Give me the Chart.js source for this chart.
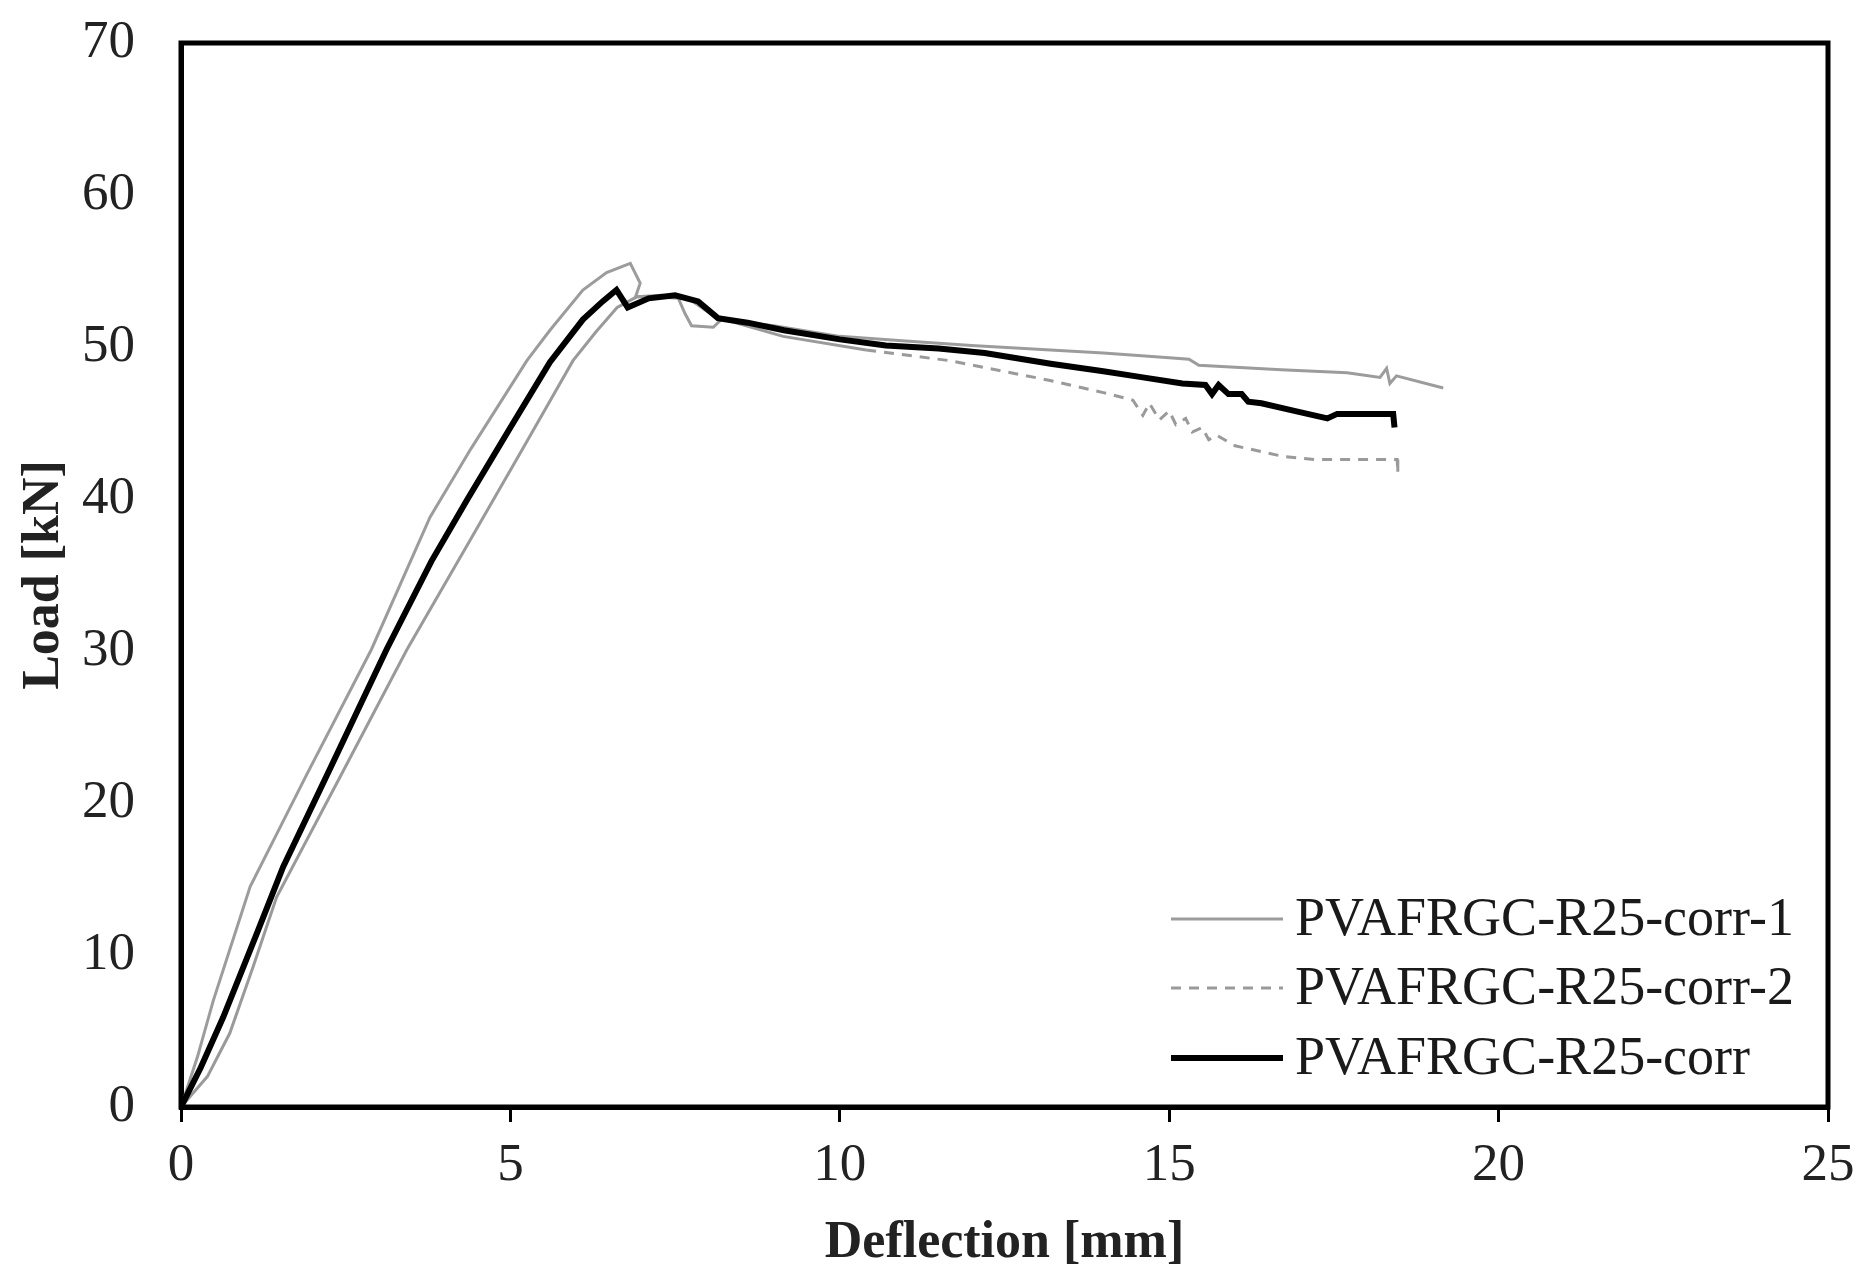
<!DOCTYPE html>
<html>
<head>
<meta charset="utf-8">
<title>Load - Deflection</title>
<script src="https://cdn.jsdelivr.net/npm/chart.js@4.4.1/dist/chart.umd.min.js"></script>
<style>
  html, body { margin: 0; padding: 0; background: #fff; }
  #wrap { width: 1860px; height: 1275px; }
</style>
</head>
<body>
<div id="wrap"><canvas id="loadChart" width="1860" height="1275"></canvas></div>
<script>
// Series labels (legend order)
const seriesNames = ['PVAFRGC-R25-corr-1', 'PVAFRGC-R25-corr-2', 'PVAFRGC-R25-corr'];

// PVAFRGC-R25-corr-1 (grey solid)
const corr1X = [0, 0.25, 0.49, 1.05, 1.9, 2.89, 3.78, 4.4, 5.25, 5.6, 6.1, 6.46, 6.82, 6.97, 6.9, 7.2, 7.55, 7.65, 7.75, 8.08, 8.2,
                9.0, 10.0, 11.0, 12.0, 13.2, 14.0, 15.0, 15.3, 15.45, 16.7, 17.7, 18.2, 18.3, 18.35, 18.45, 19.16];
const corr1Y = [0, 3.3, 7.0, 14.5, 21.8, 30.1, 38.8, 43.3, 49.1, 51.1, 53.75, 54.9, 55.5, 54.2, 53.3, 53.3, 53.2, 52.2, 51.4, 51.3, 51.8,
                51.4, 50.7, 50.4, 50.1, 49.8, 49.6, 49.3, 49.2, 48.8, 48.5, 48.3, 48.0, 48.6, 47.6, 48.1, 47.3];

// PVAFRGC-R25-corr-2 (grey, dashed on the softening branch)
const corr2X = [0, 0.4, 0.74, 1.1, 1.45, 2.4, 3.43, 4.39, 5.2, 5.95, 6.3, 6.62, 6.92, 7.3, 7.7, 8.1, 8.5, 9.14, 10.4, 11.67, 13.19,
                14.0, 14.45, 14.6, 14.7, 14.85, 15.0, 15.1, 15.25, 15.35, 15.5, 15.6, 15.72, 16.0, 16.73, 17.2, 18.46, 18.47];
const corr2Y = [0, 2.0, 4.85, 9.3, 13.8, 21.6, 30.1, 37.3, 43.4, 49.1, 51.0, 52.6, 53.3, 53.4, 53.2, 52.0, 51.5, 50.7, 49.8, 49.1, 47.8,
                47.0, 46.5, 45.5, 46.3, 45.2, 45.8, 44.9, 45.3, 44.4, 44.7, 43.9, 44.2, 43.5, 42.8, 42.6, 42.6, 41.8];
const corr2DashFrom = 10.4;

// PVAFRGC-R25-corr (black thick)
const corrX = [0, 0.3, 0.64, 1.15, 1.55, 2.3, 3.12, 3.8, 4.35, 5.0, 5.6, 6.1, 6.4, 6.61, 6.78, 7.1, 7.5, 7.85, 8.15, 8.6, 9.15,
               10.0, 10.7, 11.5, 12.2, 13.2, 14.0, 14.6, 15.2, 15.55, 15.65, 15.75, 15.9, 16.1, 16.2, 16.4, 16.9, 17.4, 17.55, 18.4, 18.42];
const corrY = [0, 2.6, 5.9, 11.4, 15.8, 22.6, 30.1, 35.9, 40.0, 44.7, 49.0, 51.8, 53.0, 53.75, 52.6, 53.2, 53.4, 53.0, 51.9, 51.6, 51.1,
               50.5, 50.1, 49.9, 49.6, 48.9, 48.4, 48.0, 47.6, 47.5, 46.9, 47.5, 46.9, 46.9, 46.4, 46.3, 45.8, 45.3, 45.6, 45.6, 44.7];

// Axis ticks
const xTicks = [0, 5, 10, 15, 20, 25];
const yTicks = [0, 10, 20, 30, 40, 50, 60, 70];

const serif = "'Liberation Serif', 'Times New Roman', Times, serif";

function toPoints(xs, ys) {
    return xs.map((x, i) => ({ x: x, y: ys[i] }));
}

// keep the plot box where the layout padding puts it
function noLabelPadding(scale) {
    scale.paddingTop = 0;
    scale.paddingBottom = 0;
    scale.paddingLeft = 0;
    scale.paddingRight = 0;
}

// Box round the plot area (top and right edges)
const frameBox = {
    id: 'frameBox',
    afterDraw(chart) {
        const { ctx, chartArea: a } = chart;
        ctx.save();
        ctx.strokeStyle = '#000';
        ctx.lineWidth = 5;
        ctx.strokeRect(a.left, a.top, a.right - a.left, a.bottom - a.top);
        ctx.restore();
    }
};

// Legend inside the plot, lower right
const insideLegend = {
    id: 'insideLegend',
    afterDraw(chart) {
        const { ctx, chartArea: a } = chart;
        const lineStart = a.right - 657;
        const lineEnd = a.right - 545;
        const textStart = a.right - 533;
        const rows = [a.bottom - 188, a.bottom - 119, a.bottom - 49];
        ctx.save();
        chart.data.datasets.forEach((ds, i) => {
            const y = rows[i];
            ctx.beginPath();
            ctx.strokeStyle = ds.borderColor;
            ctx.lineWidth = ds.borderWidth;
            ctx.setLineDash(ds.legendDash || []);
            ctx.moveTo(lineStart, y);
            ctx.lineTo(lineEnd, y);
            ctx.stroke();
            ctx.setLineDash([]);
            ctx.fillStyle = '#1a1a1a';
            ctx.font = '54px ' + serif;
            ctx.textAlign = 'left';
            ctx.textBaseline = 'middle';
            ctx.fillText(ds.label, textStart, y + 2);
        });
        ctx.restore();
    }
};

new Chart(document.getElementById('loadChart'), {
    type: 'line',
    data: {
        datasets: [
            {
                label: seriesNames[0],
                data: toPoints(corr1X, corr1Y),
                borderColor: '#9c9c9c',
                borderWidth: 3,
                pointRadius: 0,
                tension: 0,
                order: 2
            },
            {
                label: seriesNames[1],
                data: toPoints(corr2X, corr2Y),
                borderColor: '#9a9a9a',
                borderWidth: 3,
                legendDash: [10, 8],
                segment: {
                    borderDash: ctx => ctx.p0.parsed.x >= corr2DashFrom ? [10, 8] : undefined
                },
                pointRadius: 0,
                tension: 0,
                order: 1
            },
            {
                label: seriesNames[2],
                data: toPoints(corrX, corrY),
                borderColor: '#000000',
                borderWidth: 6,
                pointRadius: 0,
                tension: 0,
                order: 0
            }
        ]
    },
    options: {
        responsive: false,
        animation: false,
        devicePixelRatio: 1,
        layout: { padding: { top: 43, right: 32, left: 0, bottom: 0 } },
        plugins: {
            legend: { display: false },
            tooltip: { enabled: false }
        },
        scales: {
            x: {
                type: 'linear',
                min: 0,
                max: 25,
                afterBuildTicks: scale => { scale.ticks = xTicks.map(v => ({ value: v })); },
                afterFit: scale => { scale.height = 168; noLabelPadding(scale); },
                grid: {
                    display: true,
                    drawOnChartArea: false,
                    drawTicks: true,
                    tickLength: 15,
                    color: '#000',
                    lineWidth: 3
                },
                border: { display: true, color: '#000', width: 5 },
                ticks: {
                    padding: 12,
                    color: '#222',
                    font: { family: serif, size: 53 }
                },
                title: {
                    display: true,
                    text: 'Deflection [mm]',
                    color: '#222',
                    font: { family: serif, size: 52, weight: 'bold' },
                    padding: { top: 0, bottom: 0 }
                }
            },
            y: {
                type: 'linear',
                min: 0,
                max: 70,
                afterBuildTicks: scale => { scale.ticks = yTicks.map(v => ({ value: v })); },
                afterFit: scale => { scale.width = 181; noLabelPadding(scale); },
                grid: { display: false },
                border: { display: true, color: '#000', width: 5 },
                ticks: {
                    padding: 38,
                    color: '#222',
                    font: { family: serif, size: 53 }
                },
                title: {
                    display: true,
                    text: 'Load [kN]',
                    color: '#222',
                    font: { family: serif, size: 52, weight: 'bold' },
                    padding: { top: 13, bottom: 0 }
                }
            }
        }
    },
    plugins: [frameBox, insideLegend]
});
</script>
</body>
</html>
